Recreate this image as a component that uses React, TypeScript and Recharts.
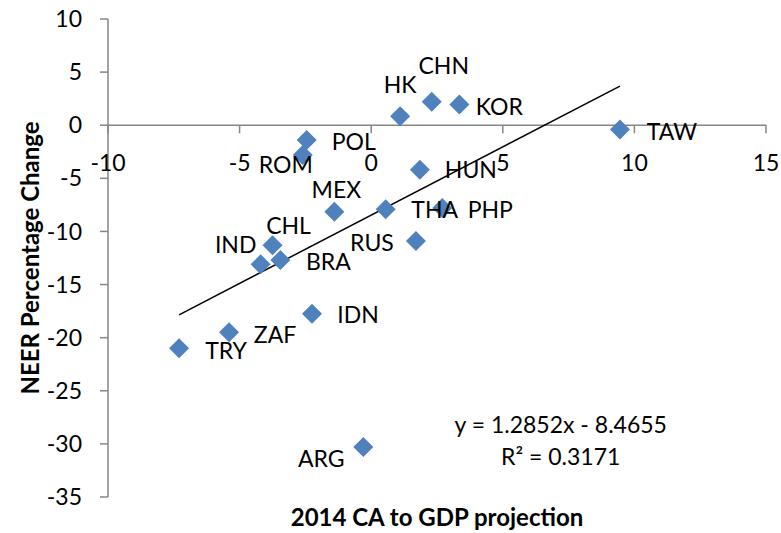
import {
  ScatterChart,
  Scatter,
  XAxis,
  YAxis,
  ReferenceLine,
  ReferenceDot,
} from "recharts"

const COUNTRIES = ["HK", "CHN", "KOR", "TAW", "POL", "ROM", "MEX", "HUN", "THA", "PHP", "CHL", "IND", "RUS", "BRA", "IDN", "ZAF", "TRY", "ARG"]
const CA_GDP = [1.1, 2.3, 3.35, 9.45, -2.45, -2.6, -1.4, 1.85, 0.55, 2.7, -3.75, -4.2, 1.7, -3.45, -2.25, -5.4, -7.3, -0.3]
const NEER = [0.85, 2.2, 1.95, -0.4, -1.4, -2.8, -8.15, -4.2, -7.9, -7.8, -11.3, -13.1, -10.9, -12.7, -17.75, -19.5, -21, -30.3]

const X_TICKS = [-10, -5, 0, 5, 10, 15]
const Y_TICKS = [-35, -30, -25, -20, -15, -10, -5, 0, 5, 10]

// trendline as printed on the chart
const SLOPE = 1.2852
const INTERCEPT = -8.4655
const R2 = 0.3171
const TREND_X = [-7.3, 9.45]

// where each data label sits relative to its marker (px)
const LABEL_OFFSETS: Record<string, [number, number]> = {
  HK: [0, -31],
  CHN: [12, -36],
  KOR: [40, 2],
  TAW: [52, 2],
  POL: [47, 2],
  ROM: [-17, 10],
  MEX: [2, -22],
  HUN: [51, 0],
  THA: [49, 1],
  PHP: [48, 2],
  CHL: [16, -20],
  IND: [-25, -20],
  RUS: [-44, 2],
  BRA: [48, 2],
  IDN: [46, 1],
  ZAF: [46, 2],
  TRY: [47, 2],
  ARG: [-42, 12],
}

const points = COUNTRIES.map((name, i) => ({ name, x: CA_GDP[i], y: NEER[i] }))

const FONT = "Lato, 'Open Sans', sans-serif"
const FS = 23
const AXIS = "#868686"
const BLUE = "#4F81BD"

const Diamond = (p: any) => {
  const { cx, cy } = p
  return (
    <polygon
      points={`${cx},${cy - 10} ${cx + 10},${cy} ${cx},${cy + 10} ${cx - 10},${cy}`}
      fill={BLUE}
    />
  )
}

const PointLabel = (p: any) => {
  const name = p.payload?.name ?? COUNTRIES[p.index]
  const off = LABEL_OFFSETS[name] || [0, 0]
  return (
    <text
      x={p.cx + off[0]}
      y={p.cy + off[1]}
      dy="0.36em"
      textAnchor="middle"
      fontSize={FS}
      fontFamily={FONT}
      fill="#000"
    >
      {name}
    </text>
  )
}

const xTickShape = (value: number) => (p: any) => (
  <g>
    <line x1={p.cx} y1={p.cy} x2={p.cx} y2={p.cy + 8} stroke={AXIS} strokeWidth={1.5} />
    <text x={p.cx} y={p.cy + 37} dy="0.36em" textAnchor="middle" fontSize={FS} fontFamily={FONT} fill="#000">
      {value}
    </text>
  </g>
)

const equationShape = (p: any) => (
  <g fontFamily={FONT} fontSize={FS} fill="#000" textAnchor="middle">
    <text x={p.cx} y={p.cy} dy="0.36em">
      {`y = ${SLOPE}x - ${Math.abs(INTERCEPT)}`}
    </text>
    <text x={p.cx} y={p.cy + 32} dy="0.36em">
      R² = {R2}
    </text>
  </g>
)

export default function App() {
  return (
    <div style={{ position: "absolute", left: 0, top: 0 }}>
      <ScatterChart
        width={781}
        height={533}
        margin={{ top: 19, right: 15, bottom: 0, left: 0 }}
        style={{ fontFamily: FONT, background: "#fff" }}
      >
        <XAxis
          type="number"
          dataKey="x"
          domain={[-10, 15]}
          ticks={X_TICKS}
          height={36}
          axisLine={false}
          tick={false}
          tickLine={false}
          label={{
            value: "2014 CA to GDP projection",
            position: "center",
            dy: 2,
            style: { fontSize: 24, fontWeight: 700, fill: "#000", fontFamily: FONT },
          }}
        />
        <YAxis
          type="number"
          dataKey="y"
          domain={[-35, 10]}
          ticks={Y_TICKS}
          width={108}
          axisLine={{ stroke: AXIS, strokeWidth: 1.5 }}
          tickLine={{ stroke: AXIS, strokeWidth: 1.5 }}
          tickSize={8}
          tickMargin={18}
          tick={{ fill: "#000", fontSize: FS, fontFamily: FONT }}
          label={{
            value: "NEER Percentage Change",
            angle: -90,
            position: "insideLeft",
            offset: 0,
            dx: 30,
            style: { fontSize: 24, fontWeight: 700, fill: "#000", fontFamily: FONT, textAnchor: "middle" },
          }}
        />
        <ReferenceLine y={0} stroke={AXIS} strokeWidth={1.5} />
        {X_TICKS.map((t) => (
          <ReferenceDot key={t} x={t} y={0} r={1} shape={xTickShape(t)} ifOverflow="visible" />
        ))}
        <Scatter data={points} shape={Diamond} isAnimationActive={false} />
        <ReferenceLine
          segment={[
            { x: TREND_X[0], y: SLOPE * TREND_X[0] + INTERCEPT },
            { x: TREND_X[1], y: SLOPE * TREND_X[1] + INTERCEPT },
          ]}
          stroke="#000"
          strokeWidth={1.5}
          ifOverflow="visible"
        />
        <Scatter data={points} shape={PointLabel} isAnimationActive={false} />
        <ReferenceDot x={7.2} y={-28.2} r={1} shape={equationShape} ifOverflow="visible" />
      </ScatterChart>
    </div>
  )
}
